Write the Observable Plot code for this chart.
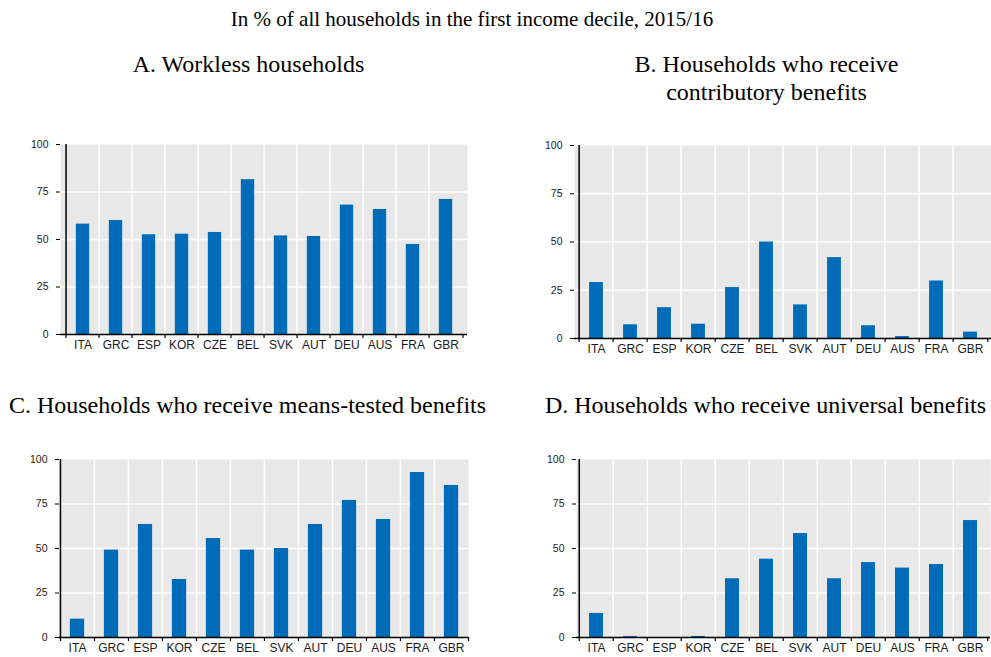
<!DOCTYPE html>
<html>
<head>
<meta charset="utf-8">
<script src="https://cdn.jsdelivr.net/npm/d3@7"></script>
<script src="https://cdn.jsdelivr.net/npm/@observablehq/plot@0.6"></script>
<style>
  html, body { margin: 0; padding: 0; background: #fff; }
  #chart { position: relative; width: 991px; height: 657px; overflow: hidden; }
  .t { position: absolute; font-family: "Liberation Serif", "Times New Roman", serif; color: #000; text-align: center; white-space: nowrap; }
  .main { font-size: 21px; line-height: 24px; }
  .ptitle { font-size: 24px; line-height: 28px; }
  .panel { position: absolute; }
  .panel svg { overflow: visible; }
</style>
</head>
<body>
<div id="chart"></div>
<script>
const countries = ["ITA","GRC","ESP","KOR","CZE","BEL","SVK","AUT","DEU","AUS","FRA","GBR"];
const workless     = [58.1, 60.0, 52.5, 52.8, 53.7, 81.5, 51.9, 51.6, 68.1, 65.8, 47.4, 71.1];
const contributory = [29.0, 7.1, 16.0, 7.4, 26.4, 50.0, 17.4, 41.9, 6.6, 1.0, 29.8, 3.3];
const meansTested  = [10.3, 49.1, 63.5, 32.6, 55.6, 49.1, 50.0, 63.5, 77.0, 66.3, 92.7, 85.4];
const universal    = [13.5, 0.6, 0, 0.6, 33.0, 44.0, 58.4, 33.0, 42.1, 39.0, 41.0, 65.7];
const yTicks = [0, 25, 50, 75, 100];
const gridValues = [25, 50, 75];

const mainTitle = "In % of all households in the first income decile, 2015/16";
const panelTitles = [
  ["A. Workless households"],
  ["B. Households who receive", "contributory benefits"],
  ["C. Households who receive means-tested benefits"],
  ["D. Households who receive universal benefits"]
];

const BLUE = "#006bb6";
const BG = "#e8e8e8";

const chart = document.getElementById("chart");

function addText(cls, lines, left, top, width) {
  const d = document.createElement("div");
  d.className = "t " + cls;
  d.style.left = left + "px";
  d.style.top = top + "px";
  d.style.width = width + "px";
  d.innerHTML = lines.join("<br>");
  chart.appendChild(d);
}

function panel(values, L) {
  const data = countries.map((c, i) => ({c, v: values[i]}));
  const plotW = L.width - L.ml - L.mr;
  const plotH = L.height - L.mt - L.mb;
  const bw = plotW / countries.length;
  const inset = bw * 0.29;
  const tickLen = 4 * 100 / plotH; // 4px in data units
  const p = Plot.plot({
    width: L.width,
    height: L.height,
    marginLeft: L.ml,
    marginRight: L.mr,
    marginTop: L.mt,
    marginBottom: L.mb,
    style: {fontFamily: "'Liberation Sans', Arial, sans-serif", fontSize: "11px", color: "#000", background: "transparent", overflow: "visible"},
    x: {domain: countries, padding: 0, tickSize: 0, tickPadding: 6, label: null},
    y: {domain: [0, 100], ticks: yTicks, tickSize: 4, tickPadding: 8, label: null},
    marks: [
      Plot.frame({fill: BG, stroke: null}),
      Plot.ruleY(gridValues, {stroke: "#fff", strokeWidth: 1.5}),
      Plot.ruleX(countries.slice(1), {x: d => d, y1: 0, y2: 100, dx: -bw / 2, stroke: "#fff", strokeWidth: 1.5}),
      Plot.barY(data, {x: "c", y: "v", fill: BLUE, insetLeft: inset, insetRight: inset}),
      Plot.ruleY([0], {stroke: "#000", strokeWidth: 1.5}),
      Plot.ruleX([countries[0]], {x: d => d, y1: 0, y2: 100, dx: -bw / 2, stroke: "#000", strokeWidth: 1.5}),
      Plot.ruleX(countries, {x: d => d, y1: 0, y2: -tickLen, dx: -bw / 2, stroke: "#000", strokeWidth: 1.2}),
      Plot.ruleX([countries[countries.length - 1]], {x: d => d, y1: 0, y2: -tickLen, dx: bw / 2, stroke: "#000", strokeWidth: 1.2})
    ]
  });
  d3.select(p).selectAll("text").each(function () {
    const isX = countries.includes(this.textContent);
    this.style.fontSize = isX ? "12px" : "10.5px";
    this.style.fill = "#1a1a1a";
  });
  const wrap = document.createElement("div");
  wrap.className = "panel";
  wrap.style.left = L.left + "px";
  wrap.style.top = L.top + "px";
  wrap.appendChild(p);
  chart.appendChild(wrap);
}

addText("main", [mainTitle], 172, 7, 600);
addText("ptitle", panelTitles[0], 0, 50, 497);
addText("ptitle", panelTitles[1], 520, 50, 493);
addText("ptitle", panelTitles[2], 0, 391, 495);
addText("ptitle", panelTitles[3], 520, 391, 491);

panel(workless,     {left: 0,   top: 130, width: 480, height: 230, ml: 60, mr: 13, mt: 14, mb: 26});
panel(contributory, {left: 500, top: 130, width: 491, height: 230, ml: 74, mr: 0,  mt: 15, mb: 22});
panel(meansTested,  {left: 0,   top: 445, width: 480, height: 212, ml: 59, mr: 12, mt: 14, mb: 20});
panel(universal,    {left: 500, top: 445, width: 491, height: 212, ml: 76, mr: 1,  mt: 14, mb: 20});
</script>
</body>
</html>
